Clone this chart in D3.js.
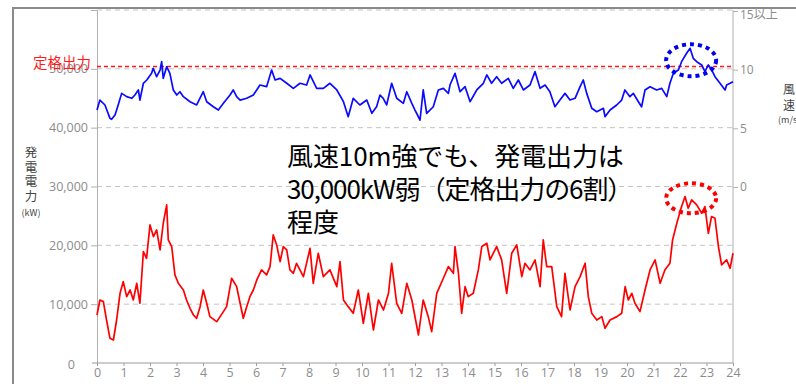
<!DOCTYPE html>
<html><head><meta charset="utf-8">
<script src="https://cdn.jsdelivr.net/npm/d3@7"></script>
<style>body{margin:0;background:#fff}</style>
</head><body>
<svg id="c" width="796" height="384"></svg>
<script>
// ---- data ----
const xTicks = d3.range(0, 25);
const leftTicks = [0, 10000, 20000, 30000, 40000, 50000, 60000];
const rightTicks = [0, 5, 10, 15];
const rightTickLabels = ["0", "5", "10", "15以上"];
const ratedOutput = 50400;
const annotation = ["風速10m強でも、発電出力は", "30,000kW弱（定格出力の6割）", "程度"];
const annotationSpacing = [-0.1, -1.1, 0];

const windHours = [
0.00,0.11,0.30,0.49,0.55,0.68,0.80,0.93,1.12,1.31,
1.43,1.56,1.62,1.75,1.88,2.06,2.12,2.25,2.38,2.44,
2.50,2.63,2.75,2.88,3.01,3.13,3.26,3.51,3.76,4.01,
4.14,4.39,4.58,4.77,5.02,5.14,5.27,5.40,5.65,5.90,
6.15,6.40,6.59,6.72,6.91,7.16,7.41,7.66,7.91,8.04,
8.29,8.54,8.79,9.05,9.30,9.48,9.67,9.92,10.18,10.37,
10.55,10.68,10.80,10.93,11.12,11.31,11.56,11.69,11.88,12.00,
12.19,12.31,12.44,12.69,12.88,13.07,13.26,13.32,13.51,13.70,
13.89,14.08,14.33,14.58,14.71,14.89,15.08,15.27,15.52,15.71,
15.90,16.09,16.34,16.53,16.72,16.91,17.09,17.28,17.47,17.66,
17.85,18.04,18.23,18.35,18.48,18.67,18.86,19.11,19.17,19.36,
19.61,19.80,19.92,20.11,20.24,20.43,20.55,20.68,20.87,21.12,
21.31,21.50,21.62,21.75,21.94,22.06,22.25,22.38,22.50,22.63,
22.82,22.94,23.07,23.20,23.32,23.51,23.70,23.76,23.89,24.00];
const windSpeed = [
6.56,7.41,6.99,5.85,5.77,6.14,6.99,7.98,7.70,7.56,
7.84,8.27,7.41,8.84,9.12,9.69,10.12,9.40,9.97,10.68,
9.26,10.25,9.69,8.27,7.84,8.12,7.70,7.27,6.99,8.12,
7.27,6.84,6.56,7.13,7.84,8.27,7.70,7.41,7.56,7.84,
8.69,8.55,9.97,9.12,9.26,8.84,8.41,8.84,8.69,9.55,
8.41,8.41,8.84,8.27,7.27,5.99,7.56,6.99,7.41,6.28,
6.84,7.84,7.56,6.99,8.84,7.56,7.13,8.12,7.13,6.56,
5.71,8.27,6.28,6.84,8.27,8.41,7.98,8.69,9.69,8.12,
8.55,7.27,8.27,8.84,9.55,8.84,9.40,8.84,9.26,8.41,
9.12,8.27,8.69,9.83,8.41,8.69,8.12,6.84,7.41,7.98,
7.41,7.56,8.55,9.12,7.98,6.71,6.42,6.71,5.99,6.56,
6.99,7.41,8.27,7.70,7.98,7.27,6.84,8.27,8.55,8.27,
8.41,7.70,8.84,9.69,9.97,10.68,11.40,11.82,10.97,10.68,
10.40,9.83,10.40,9.97,9.40,8.84,8.27,8.69,8.84,8.98];

const powerHours = [
0.00,0.11,0.24,0.36,0.49,0.62,0.74,0.87,0.99,1.12,
1.25,1.37,1.50,1.62,1.75,1.87,2.00,2.13,2.25,2.38,
2.50,2.63,2.69,2.82,2.94,3.07,3.26,3.38,3.51,3.64,
3.76,3.89,4.01,4.14,4.26,4.52,4.77,4.89,5.08,5.27,
5.40,5.52,5.65,5.77,5.90,6.03,6.21,6.40,6.53,6.65,
6.78,6.91,7.03,7.16,7.28,7.41,7.53,7.79,8.04,8.16,
8.35,8.54,8.79,9.05,9.17,9.30,9.48,9.67,9.86,10.05,
10.24,10.43,10.62,10.81,11.00,11.12,11.31,11.50,11.69,11.88,
12.13,12.31,12.50,12.63,12.82,13.07,13.26,13.45,13.51,13.64,
13.76,13.89,14.01,14.20,14.39,14.52,14.71,14.83,15.08,15.27,
15.46,15.65,15.84,16.03,16.15,16.34,16.53,16.72,16.84,16.97,
17.16,17.35,17.53,17.66,17.85,18.04,18.23,18.42,18.54,18.67,
18.86,19.05,19.17,19.36,19.62,19.80,19.93,20.05,20.18,20.30,
20.49,20.68,20.87,21.06,21.25,21.43,21.62,21.72,21.88,22.06,
22.19,22.31,22.44,22.63,22.82,22.94,23.07,23.19,23.32,23.45,
23.57,23.76,23.89,24.00];
const powerKW = [
8160,10710,10430,7310,4200,3910,7310,11850,13830,11280,
12410,10710,13550,10150,18930,17800,23470,21480,22620,19220,
23750,26870,20920,19780,14970,13550,12410,10710,9300,8160,
7600,9580,12410,10150,7880,7030,8730,9580,14400,12980,
10150,7600,9580,11280,12410,14120,15820,14970,16380,21770,
20070,17230,19780,19220,15820,15250,16950,14680,19500,13550,
18650,14680,15820,12980,17230,10710,9580,8450,12410,6750,
11850,5610,10710,9010,11850,16950,10150,8450,13550,10710,
4760,10710,7880,5330,11850,14400,16380,15250,19790,15250,
8450,12980,11280,11850,15820,19790,20350,17520,19790,17520,
11850,18650,20070,14680,16950,15820,17520,12980,20920,16380,
16380,9580,7880,15250,9010,12980,14680,16950,11280,8450,
7310,7880,5900,7310,7880,8450,12980,10710,11850,10150,
8730,12410,15820,17520,13550,15820,16950,20920,23750,26590,
28290,26300,27720,26870,25450,26590,22050,24890,24600,19790,
16670,17520,16100,18650];

// ---- chart ----
const svg = d3.select("#c");
const x = d3.scaleLinear().domain([0, 24]).range([97, 733]);
const yL = d3.scaleLinear().domain([0, 60000]).range([363, 10]);
const yR = d3.scaleLinear().domain([0, 15]).range([187, 11]);
const tickFont = "'Open Sans','Noto Sans CJK JP',sans-serif";
const jpFont = "'Noto Sans CJK JP',sans-serif";

// outer frame
svg.append("path").attr("d", "M13,384V8H796").attr("fill", "none")
  .attr("stroke", "#8a8a8a").attr("stroke-width", 2);

// grid lines
svg.append("g").selectAll("line").data(leftTicks.filter(d => d > 0)).join("line")
  .attr("x1", x(0)).attr("x2", x(24)).attr("y1", d => yL(d)).attr("y2", d => yL(d))
  .attr("stroke", "#c4c4c4").attr("stroke-width", 1).attr("stroke-dasharray", "5,4");

// left axis
const gL = svg.append("g").attr("transform", `translate(${x(0)},0)`)
  .call(d3.axisLeft(yL).tickValues(leftTicks).tickSize(6).tickSizeOuter(0).tickPadding(3)
    .tickFormat(d => d === 60000 ? "" : d3.format(",")(d)));
gL.select(".domain").attr("stroke", "#b0b0b0");
gL.selectAll(".tick line").attr("stroke", "#b0b0b0");
gL.selectAll(".tick text").attr("fill", "#8c8c8c").style("font-family", tickFont).style("font-size", "12.5px");
gL.selectAll(".tick").filter(d => d === 0).select("text").attr("x", -22).attr("dy", "0.45em");
gL.selectAll(".tick").filter(d => d === 0).select("line").remove();

// right axis
svg.append("line").attr("x1", x(24)).attr("x2", x(24)).attr("y1", yL(60000)).attr("y2", yL(0))
  .attr("stroke", "#b0b0b0");
const gR = svg.append("g").attr("transform", `translate(${x(24)},0)`)
  .call(d3.axisRight(yR).tickValues(rightTicks).tickSize(5).tickSizeOuter(0).tickPadding(2)
    .tickFormat((d, i) => rightTickLabels[i]));
gR.select(".domain").remove();
gR.selectAll(".tick line").attr("stroke", "#b0b0b0");
gR.selectAll(".tick text").attr("fill", "#8c8c8c").style("font-family", tickFont).style("font-size", "12px");
gR.selectAll(".tick").filter(d => d === 15).select("text").attr("dy", "0.62em");

// bottom axis
svg.append("line").attr("x1", 92).attr("x2", x(24)).attr("y1", yL(0)).attr("y2", yL(0)).attr("stroke", "#9a9a9a");
const gB = svg.append("g").attr("transform", `translate(0,${yL(0)})`)
  .call(d3.axisBottom(x).tickValues(xTicks).tickSize(3).tickSizeOuter(0).tickPadding(2));
gB.select(".domain").remove();
gB.selectAll(".tick line").attr("stroke", "#9a9a9a");
gB.selectAll(".tick text").attr("fill", "#8c8c8c").style("font-family", tickFont).style("font-size", "12.5px");

// axis titles (vertical text)
svg.append("text").attr("x", 31).attr("y", 146)
  .attr("writing-mode", "vertical-rl").style("letter-spacing", "2.2px")
  .style("font-family", jpFont).style("font-size", "12.5px").attr("fill", "#444").text("発電電力");
svg.append("text").attr("x", 31).attr("y", 216).attr("text-anchor", "middle")
  .style("font-family", jpFont).style("font-size", "9px").attr("fill", "#444").text("(kW)");
svg.append("text").attr("x", 789).attr("y", 83)
  .attr("writing-mode", "vertical-rl").style("letter-spacing", "4px")
  .style("font-family", jpFont).style("font-size", "12px").attr("fill", "#444").text("風速");
svg.append("text").attr("x", 778).attr("y", 123)
  .style("font-family", jpFont).style("font-size", "9px").attr("fill", "#444").text("(m/s)");

// rated output line
svg.append("line").attr("x1", x(0)).attr("x2", x(24)).attr("y1", yL(ratedOutput)).attr("y2", yL(ratedOutput))
  .attr("stroke", "#ff1a1a").attr("stroke-width", 1.5).attr("stroke-dasharray", "4,3");
svg.append("text").attr("x", 91).attr("y", 68).attr("text-anchor", "end")
  .style("font-family", jpFont).style("font-size", "14.5px").attr("fill", "#ff1a1a").text("定格出力");

// series
const powerLine = d3.line().x((d, i) => x(powerHours[i])).y(d => yL(d));
svg.append("path").datum(powerKW).attr("d", powerLine).attr("fill", "none")
  .attr("stroke", "#ff0000").attr("stroke-width", 1.7).attr("stroke-linejoin", "round");
const windLine = d3.line().x((d, i) => x(windHours[i])).y(d => yR(d));
svg.append("path").datum(windSpeed).attr("d", windLine).attr("fill", "none")
  .attr("stroke", "#0a0aff").attr("stroke-width", 1.7).attr("stroke-linejoin", "round");

// highlight ellipses
svg.append("ellipse").attr("cx", x(22.42)).attr("cy", yR(10.8)).attr("rx", 25).attr("ry", 16)
  .attr("fill", "none").attr("stroke", "#0000ee").attr("stroke-width", 4).attr("stroke-dasharray", "4,4");
svg.append("ellipse").attr("cx", x(22.42)).attr("cy", yL(28000)).attr("rx", 25).attr("ry", 15)
  .attr("fill", "none").attr("stroke", "#ff0000").attr("stroke-width", 4).attr("stroke-dasharray", "4,4");

// annotation (one text block, three lines)
svg.append("text").attr("y", 166)
  .style("font-family", jpFont).style("font-size", "26px").attr("fill", "#000")
  .selectAll("tspan").data(annotation).join("tspan")
  .attr("x", 287).attr("dy", (d, i) => i === 0 ? 0 : 33)
  .style("letter-spacing", (d, i) => annotationSpacing[i] + "px")
  .text(d => d);
</script>
</body></html>
